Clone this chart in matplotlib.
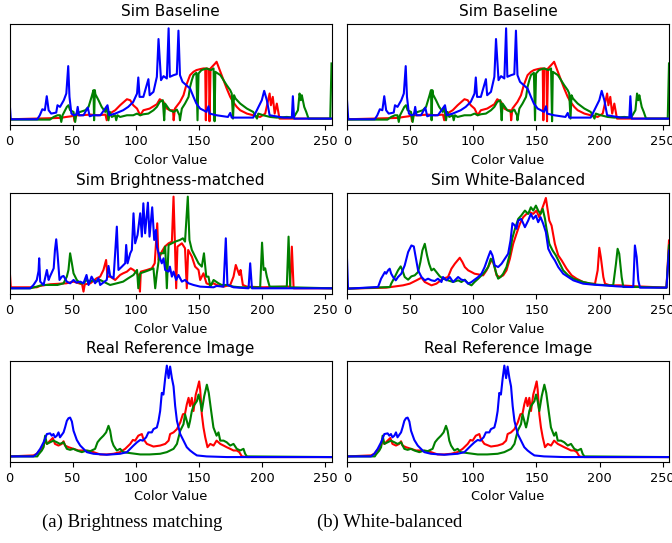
import matplotlib
matplotlib.use("Agg")
import matplotlib.pyplot as plt

# Histogram curves: (color value, relative count)
base_red = [(0,18),(40,22),(45,25),(49,27),(50.7,30),(51.5,12),(52.5,30),(56,30),(64,32),(70,30),(76,32),(77,15),(78,32),
            (83.7,45),(87.6,60),(93,78),(95.6,75),(98,60),(101,50),(103.5,30),(106,45),(111,50),(116.7,63),(119,78),(122,70),
            (124.6,50),(127,45),(129.5,45),(130,15),(131,50),(135,70),(137.8,90),(140,120),(143,150),(145.7,160),(148,165),
            (151,168),(153.6,170),(155,170),(155.5,15),(156.2,170),(158,168),(158.4,12),(159.2,170),(162.9,185),(164,190),
            (165.5,175),(168,150),(172,110),(174.8,85),(177,70),(180,55),(182.7,45),(188,35),(193,30),(198.5,25),(202.5,35),
            (206,95),(207,60),(208.5,85),(210,35),(211.7,65),(213.8,20),(219.6,20),(255,20)]
base_green = [(0,17),(32,17),(35,25),(38,30),(40,30),(41,10),(42,30),(45.4,55),(46.7,60),(48,45),(50.7,40),(52,10),(53,35),
              (56,40),(60,45),(62.6,55),(65,85),(66.5,105),(67,15),(67.6,105),(68,93),(70.5,75),(73,55),(75.8,40),(77,55),
              (78.4,15),(79.5,40),(81,25),(83.7,30),(84.5,15),(85.5,30),(87.6,25),(93,30),(98,30),(101,35),(103.5,30),(106,33),
              (110,35),(114,45),(116.7,55),(119,70),(121.4,75),(122.5,15),(123.2,65),(126,50),(127,45),(130,40),(132.5,47),
              (134.6,30),(135,15),(135.6,30),(136.5,50),(139,65),(141.8,85),(143,115),(144.4,135),(145.7,150),(148,157),
              (148.9,15),(149.7,155),(152,165),(156,170),(159.5,165),(161.6,170),(162.4,12),(163,160),(167,150),(169.5,135),
              (172,120),(174.8,105),(176,95),(177,20),(177.8,90),(179,80),(182.7,65),(188,50),(193,40),(196,20),(197,35),
              (201,30),(206.4,25),(211.7,23),(219.6,25),(225,23),(228.4,45),(229.7,95),(230.7,75),(231.5,90),(233.4,55),
              (235,40),(236.8,20),(254,20),(255,185)]
base_blue = [(0,75),(1,18),(22,18),(24,30),(26,48),(28,45),(29.5,87),(31,45),(33,35),(37,38),(38,60),(40,55),(43,75),(45,95),
             (46.5,177),(47.5,85),(49,35),(51,30),(53,32),(54,55),(55,30),(58.6,30),(62,53),(63.5,27),(66,30),(72,30),
             (77.6,60),(79,30),(83.7,35),(90,45),(94,55),(98,70),(101,95),(102,143),(103,85),(106,85),(110,138),(111,90),
             (114,100),(116.7,145),(118,258),(120,135),(122,147),(124.6,140),(126,290),(127,145),(130,150),(132.5,153),
             (133.8,283),(135,150),(137,130),(140,120),(143,110),(145.7,85),(148,65),(151,50),(153.6,45),(156,40),(157.6,57),
             (158.5,35),(164,30),(173,25),(174.8,37),(176,23),(183,23),(193,23),(199.8,75),(201.7,103),(203.8,75),(206,30),
             (217,23),(223.6,23),(224.4,87),(225.4,20),(255,20)]

bright_red = [(0,83),(1,21),(21.6,21),(24,25),(32,30),(45,33),(50.7,38),(57.5,30),(58.6,8),(59.6,30),(64,33),(69,48),(71.8,53),
              (74.4,73),(76.5,103),(77.6,53),(79.7,53),(83.7,43),(87.6,58),(90,63),(93,68),(96,78),(98.2,73),(101,63),
              (102.8,53),(103.3,8),(104,68),(108.8,73),(112.7,78),(115,93),(117,213),(118,103),(120.6,128),(123,143),(126,153),
              (128.6,158),(129.9,293),(131,153),(132,18),(133,143),(136.5,153),(139,138),(140.4,18),(141.5,133),(144.4,113),
              (147,83),(149.7,73),(151,43),(153.6,63),(156,33),(159,28),(161.6,33),(164,28),(169.5,23),(174.8,28),(177.4,53),
              (179.2,88),(180.6,73),(182,58),(183,73),(184.8,28),(188,23),(201,21),(219.6,23),(222.3,23),(223.6,143),(225,18),
              (255,18)]
bright_green = [(0,18),(16.4,18),(21.6,23),(26,28),(38,28),(42.8,33),(45.4,53),(46.7,73),(48,123),(49.4,93),(50.7,63),(53.3,43),
                (56,33),(58.6,33),(61.2,43),(64,38),(66.5,43),(69,38),(71.8,43),(77,33),(79.7,28),(85,33),(90,38),(94,48),
                (98.2,58),(101,73),(102,18),(103.5,63),(107.4,68),(111,73),(114,78),(115.4,18),(116.7,63),(119,123),(121.9,123),
                (123.3,143),(124.6,18),(126,148),(128.6,153),(131.2,158),(135,163),(137.3,168),(139,158),(141.2,293),(142.5,163),
                (144.4,133),(147,113),(149.7,93),(152.3,83),(154,123),(155.8,53),(157.6,53),(159,23),(161.6,43),(165.5,33),
                (168,28),(172,28),(177.4,23),(182.7,21),(198.5,21),(200,155),(201.2,73),(202.5,78),(203.8,53),(206,23),
                (219.6,23),(221,173),(222.3,21),(255,18)]
bright_blue = [(0,25),(1,18),(16.4,18),(19,28),(21.6,43),(23,70),(23.5,108),(24.3,38),(27,28),(29.6,73),(31,43),(32,53),(35,78),
               (36,133),(37,165),(38,123),(39.6,43),(41.4,53),(42.8,55),(45.4,38),(48,33),(50.7,43),(53,35),(56,38),(58.6,33),
               (61,58),(62.6,28),(65,53),(67.8,33),(70.5,48),(71.8,28),(77,43),(78.4,85),(79.7,55),(82.4,48),(85,203),(86.3,73),
               (89,83),(91.6,93),(92.4,148),(93.5,93),(95.6,123),(96.9,133),(98.2,243),(99.5,153),(101.4,178),(103.5,243),
               (104.8,173),(106,273),(107.4,183),(109.6,275),(110.9,173),(113,261),(114.6,163),(116,193),(116.7,143),
               (118.8,113),(120.6,93),(122,108),(123.3,73),(126,68),(127,83),(128.6,53),(129.9,68),(132,43),(133.8,58),
               (136.5,38),(139,43),(141.8,33),(145.7,28),(151,23),(161.6,21),(164,25),(169.5,23),(171.3,168),(172.6,28),
               (177.4,21),(189.3,18),(190.6,93),(192,18),(255,18)]

real_red = [(0,17),(19,20),(21.6,25),(23.8,35),(25.6,40),(27,50),(28.2,67),(29.6,55),(32.2,65),(34.3,73),(36,55),(38.8,50),
            (41.4,55),(42.8,63),(44,50),(46.7,45),(50.7,40),(54.6,35),(58.6,35),(62.6,33),(66.5,30),(71.8,23),(77,23),
            (82.4,25),(87.6,30),(91.6,40),(95.6,55),(97.7,67),(99.5,65),(102,80),(104.8,85),(106,70),(108.8,55),(114,47),
            (119.3,50),(123.3,55),(126,65),(127.2,85),(129.9,90),(132.6,100),(135.2,120),(137.3,145),(139,147),(140.4,175),
            (141.8,195),(143,170),(144.4,195),(145.7,155),(147.5,205),(148.9,225),(150.2,245),(151,220),(152.3,145),
            (153.6,105),(155,75),(156.8,45),(159,55),(161.6,50),(164,65),(166.9,55),(169.5,50),(172,45),(174.8,40),
            (177.4,35),(180,35),(182,30),(184,17),(188,15),(255,15)]
real_green = [(0,17),(22,17),(23,23),(25.6,35),(27,45),(28.2,80),(29.6,55),(32.2,60),(34.8,65),(37.5,60),(40,55),(42.8,60),
              (45.4,40),(48,37),(50.7,40),(53.3,35),(57.3,30),(61.2,35),(64,33),(67.8,40),(69.7,60),(71.8,70),(74.4,80),
              (76.5,90),(78.4,110),(79.7,95),(81,65),(82.4,50),(85,35),(87.6,40),(90,30),(95.6,27),(103.5,23),(111,23),
              (119.3,25),(124.6,30),(129.9,40),(132.6,55),(135.2,95),(137.8,115),(139,145),(140.4,125),(141.8,105),(143,125),
              (144.4,155),(145.7,170),(148.4,185),(149.7,205),(151,185),(152.3,155),(154.2,200),(156.3,235),(157.8,210),
              (159.7,155),(161.5,105),(164,80),(165.5,90),(166.9,65),(169.5,65),(172,60),(174.8,50),(177.4,55),(180,40),
              (182.7,35),(185.3,40),(186.6,25),(188,17),(255,15)]
real_blue = [(0,17),(19,17),(21.6,25),(24.3,40),(27,60),(29.6,85),(32.2,87),(33.5,80),(34.8,85),(36,75),(37.5,80),(38.8,90),
             (40,75),(42.8,90),(44,105),(45.4,125),(46.7,133),(48,135),(49.4,123),(50.7,95),(53.3,67),(56,50),(58.6,40),
             (61.2,30),(66.5,25),(77,22),(87.6,25),(93,30),(95.6,40),(98.2,50),(101,60),(103.5,67),(105.6,65),(108.2,75),
             (110,90),(112.7,90),(114,100),(116.7,105),(118,125),(119.3,155),(120.6,210),(121.9,205),(123.3,255),(124.6,293),
             (126,255),(127.2,290),(128.6,255),(129.9,230),(131.2,170),(132.6,125),(135.2,85),(137.8,65),(140.4,45),(143,35),
             (145.7,27),(148.4,20),(156,17),(172,15),(255,15)]

wb_red = [(0,17),(31,20),(44.4,27),(49.7,32),(55,42),(59,50),(61.6,37),(64.2,32),(66.9,27),(70.8,32),(76,47),(80,52),(82.7,77),
          (85.4,92),(88,104),(89.3,110),(91.4,97),(93.3,82),(96,72),(98.6,67),(101,62),(103.9,60),(107.8,57),(110.5,72),
          (113,92),(115.2,107),(117,82),(118.4,57),(121,52),(123.7,57),(126.3,72),(129,107),(131.6,152),(134.2,182),
          (136.9,212),(139.5,232),(142.2,242),(144.8,247),(147.5,242),(150,252),(152.2,232),(154,252),(155.9,272),(157.5,290),
          (158.6,262),(160.2,222),(162,207),(164.6,152),(167.3,117),(170,102),(173.9,77),(177.9,57),(181.8,47),(187,37),
          (192.4,32),(196.4,32),(198.5,72),(199.8,140),(201,112),(203,52),(204.3,32),(208.2,27),(216,27),(229.4,24),
          (253,20),(255,162)]
wb_green = [(0,17),(34,22),(35,32),(37.8,52),(40.4,72),(42.5,84),(43.9,72),(45.7,52),(48.4,44),(51,54),(53.6,57),(56.3,67),
            (58.1,97),(59.7,132),(61.6,152),(63.4,117),(65,92),(66.9,72),(68.7,77),(70.8,67),(73.5,54),(76,47),(80,42),(84,37),
            (88,42),(90.6,37),(93.3,44),(96,32),(98.6,27),(101,37),(103.9,47),(106.5,57),(109,67),(111.8,82),(113.8,107),
            (115.7,97),(117.9,67),(119.7,47),(121.6,52),(123.7,62),(126.3,82),(129,122),(130.8,167),(133,197),(135.6,227),
            (138,237),(140.9,252),(143.5,242),(145.6,262),(147.5,252),(149.6,267),(151.4,252),(153.3,242),(155,257),
            (156.8,227),(158,197),(160.2,152),(162.8,132),(165.4,117),(168,97),(171.2,72),(175.2,57),(179.2,47),(187,37),
            (197.6,29),(208.2,27),(210.8,27),(213,92),(214.3,137),(215.6,122),(217.5,52),(218.8,22),(229.4,22),(253,20),
            (255,147)]
wb_blue = [(0,107),(0.8,17),(24.6,22),(27,47),(30,67),(31,62),(32.5,72),(33.8,77),(35,62),(36.5,52),(38.6,42),(40.4,52),(43,62),
           (45.7,87),(48.4,127),(51,147),(52.9,144),(54.4,112),(56.3,72),(59,52),(61.6,42),(64.2,47),(66.9,42),(69.5,40),
           (72,47),(74.8,37),(76,52),(78.8,42),(81.4,52),(84,37),(88,52),(90.6,44),(93.3,42),(96,32),(98.6,37),(101,44),
           (103.9,52),(106.5,62),(109,82),(111.8,112),(113.6,130),(115.2,117),(117,87),(119.7,82),(122.4,92),(125,107),
           (127.6,122),(129.5,162),(131,214),(133,207),(134.2,197),(135.6,222),(138,227),(140.9,202),(143.5,222),(145.6,242),
           (147.5,227),(149.6,237),(151.4,217),(153.3,232),(155.4,212),(157.5,187),(159.4,137),(162,117),(164.6,102),
           (167.3,82),(171.2,62),(175.2,52),(179.2,42),(187,32),(195,29),(203,27),(213.5,24),(224,22),(226.7,22),(228,147),
           (229.4,112),(230.7,42),(232,20),(253,20),(255,132)]

titles = ["Sim Baseline", "Sim Brightness-matched", "Sim White-Balanced", "Real Reference Image"]
captions = ["(a) Brightness matching", "(b) White-balanced"]
xticks = [0, 50, 100, 150, 200, 250]

hists = {
    "Sim Baseline": (base_red, base_green, base_blue, 302),
    "Sim Brightness-matched": (bright_red, bright_green, bright_blue, 303),
    "Sim White-Balanced": (wb_red, wb_green, wb_blue, 304),
    "Real Reference Image": (real_red, real_green, real_blue, 307),
}
layout = [["Sim Baseline", "Sim Brightness-matched", "Real Reference Image"],
          ["Sim Baseline", "Sim White-Balanced", "Real Reference Image"]]

fig = plt.figure(figsize=(6.72, 5.43), dpi=100)
W, H = 672, 543
col_left = [9.5, 347]
row_top = [24.3, 193.3, 361]
ax_w, ax_h = 322, 101

for c in range(2):
    for r in range(3):
        name = layout[c][r]
        red, green, blue, top = hists[name]
        ax = fig.add_axes([col_left[c] / W, 1 - (row_top[r] + ax_h) / H, ax_w / W, ax_h / H])
        for pts, col in ((red, "red"), (green, "green"), (blue, "blue")):
            xs = [p[0] for p in pts]
            ys = [p[1] for p in pts]
            ax.plot(xs, ys, color=col, lw=1.5)
        ax.set_xlim(0, 255)
        ax.set_ylim(0, top)
        ax.set_yticks([])
        ax.set_xticks(xticks)
        ax.tick_params(axis="x", labelsize=9.3)
        ax.set_title(name, fontsize=11)
        ax.set_xlabel("Color Value", fontsize=9.3)

fig.text(132 / W, 1 - 522 / H, captions[0], ha="center", va="center",
         family=["Liberation Serif", "DejaVu Serif"], fontsize=13.5)
fig.text(390 / W, 1 - 522 / H, captions[1], ha="center", va="center",
         family=["Liberation Serif", "DejaVu Serif"], fontsize=13.5)

fig.savefig("out.png", dpi=100)
